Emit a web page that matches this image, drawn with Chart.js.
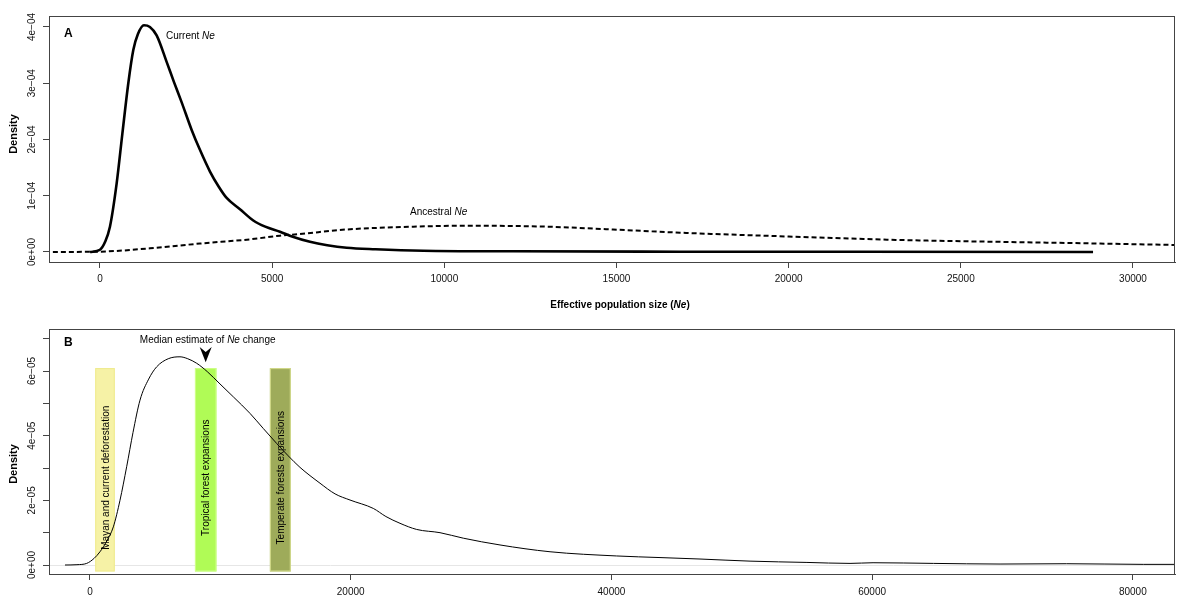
<!DOCTYPE html>
<html>
<head>
<meta charset="utf-8">
<script src="https://cdn.jsdelivr.net/npm/chart.js@4.4.0/dist/chart.umd.min.js"></script>
<style>
  html, body { margin: 0; padding: 0; background: #fff; }
  #wrap { position: relative; width: 1200px; height: 599px; }
  canvas { position: absolute; left: 0; }
</style>
</head>
<body>
<div id="wrap">
  <canvas id="chartA" width="1200" height="315" style="top:0px"></canvas>
  <canvas id="chartB" width="1200" height="284" style="top:315px"></canvas>
</div>
<script>
const FONT = '"Liberation Sans", Arial, Helvetica, sans-serif';

// ---- panel A : posterior densities of Ne ----
const currentX = [-290, 0, 150, 290, 485, 650, 823, 968, 1100, 1278, 1450, 1646, 1936, 2150, 2373, 2663, 2900, 3195, 3450, 3679, 4066, 4453, 4800, 5228, 5600, 6099, 6600, 7165, 8000, 9390, 12000, 16845, 22000, 28840];
const currentY = [0, 0.04e-4, 0.18e-4, 0.45e-4, 1.22e-4, 2.1e-4, 3.0e-4, 3.59e-4, 3.87e-4, 4.03e-4, 4.0e-4, 3.85e-4, 3.38e-4, 3.02e-4, 2.66e-4, 2.17e-4, 1.82e-4, 1.43e-4, 1.16e-4, 0.96e-4, 0.76e-4, 0.56e-4, 0.45e-4, 0.36e-4, 0.27e-4, 0.18e-4, 0.12e-4, 0.076e-4, 0.05e-4, 0.023e-4, 0.012e-4, 0.005e-4, 0.003e-4, 0];

const ancestralX = [-1600, 0, 1452, 2904, 4357, 5228, 5808, 7165, 9100, 10650, 12970, 14900, 16845, 20000, 23235, 26140, 29044, 32000];
const ancestralY = [0, 0.006e-4, 0.065e-4, 0.15e-4, 0.225e-4, 0.29e-4, 0.32e-4, 0.40e-4, 0.45e-4, 0.467e-4, 0.45e-4, 0.40e-4, 0.343e-4, 0.275e-4, 0.213e-4, 0.18e-4, 0.15e-4, 0.115e-4];

const xTicksA = [0, 5000, 10000, 15000, 20000, 25000, 30000];
const yTicksA = [0, 1e-4, 2e-4, 3e-4, 4e-4];
const yLabelsA = ['0e+00', '1e\u221204', '2e\u221204', '3e\u221204', '4e\u221204'];

// ---- panel B : density of Ne change time ----
const changeX = [-1918, -1000, -253, 300, 767, 1300, 1790, 2300, 2813, 3300, 3836, 4500, 5114, 6000, 6904, 7500, 8184, 9000, 9973, 11000, 12275, 13300, 14320, 15200, 16110, 17645, 18800, 19946, 21734, 22700, 23782, 25060, 26851, 28638, 31454, 35290, 40404, 43728, 46797, 50633, 55000, 58305, 60070, 64700, 69812, 74925, 80800, 84000];
const changeY = [0, 0.01e-5, 0.05e-5, 0.2e-5, 0.41e-5, 0.75e-5, 1.18e-5, 2.0e-5, 3.04e-5, 4.1e-5, 5.1e-5, 5.75e-5, 6.13e-5, 6.38e-5, 6.44e-5, 6.38e-5, 6.24e-5, 5.98e-5, 5.6e-5, 5.2e-5, 4.69e-5, 4.22e-5, 3.76e-5, 3.38e-5, 3.02e-5, 2.53e-5, 2.2e-5, 2.01e-5, 1.75e-5, 1.5e-5, 1.29e-5, 1.1e-5, 1.0e-5, 0.83e-5, 0.62e-5, 0.41e-5, 0.28e-5, 0.23e-5, 0.185e-5, 0.12e-5, 0.08e-5, 0.05e-5, 0.07e-5, 0.05e-5, 0.03e-5, 0.04e-5, 0.02e-5, 0.02e-5];

const xTicksB = [0, 20000, 40000, 60000, 80000];
const yTicksB = [0, 1e-5, 2e-5, 3e-5, 4e-5, 5e-5, 6e-5, 7e-5];
const yLabelsB = ['0e+00', '', '2e\u221205', '', '4e\u221205', '', '6e\u221205', ''];

const periods = ['Mayan and current deforestation', 'Tropical forest expansions', 'Temperate forests expansions'];
const periodFrom = [400, 8050, 13800];
const periodTo = [1900, 9700, 15400];
const periodTop = 6.09e-5;
const periodBottom = -0.2e-5;
const medianChange = 8875;

// styles
const periodFill = ['#f6f2a6', '#b0fb56', '#9eab5a'];
const periodEdge = ['#efeb8e', '#cfff8a', '#d5dd8c'];
const AXIS = '#444';

function pts(xs, ys) {
  return xs.map((x, i) => ({ x: x, y: ys[i] }));
}

// text with some italic bits, parts = [[text, fontStyle], ...]
function richText(ctx, parts, x, y, size, weight, align) {
  let w = 0;
  parts.forEach(p => {
    ctx.font = p[1] + ' ' + weight + ' ' + size + 'px ' + FONT;
    w += ctx.measureText(p[0]).width;
  });
  let cx = align === 'center' ? x - w / 2 : x;
  ctx.textAlign = 'left';
  ctx.textBaseline = 'middle';
  parts.forEach(p => {
    ctx.font = p[1] + ' ' + weight + ' ' + size + 'px ' + FONT;
    ctx.fillText(p[0], cx, y);
    cx += ctx.measureText(p[0]).width;
  });
}

function drawFrame(chart, ticks, labels, titleY) {
  const ctx = chart.ctx;
  const a = chart.chartArea;
  const ys = chart.scales.y;
  ctx.save();
  ctx.strokeStyle = AXIS;
  ctx.lineWidth = 1;
  ctx.strokeRect(a.left + 0.5, a.top + 0.5, a.right - a.left - 1, a.bottom - a.top);
  ctx.fillStyle = '#111';
  ctx.font = '10px ' + FONT;
  ctx.textAlign = 'center';
  ctx.textBaseline = 'middle';
  ticks.forEach((v, i) => {
    if (!labels[i]) return;
    ctx.save();
    ctx.translate(32, ys.getPixelForValue(v));
    ctx.rotate(-Math.PI / 2);
    ctx.fillText(labels[i], 0, 0);
    ctx.restore();
  });
  ctx.save();
  ctx.translate(14, titleY);
  ctx.rotate(-Math.PI / 2);
  ctx.font = 'bold 11px ' + FONT;
  ctx.fillStyle = '#000';
  ctx.fillText('Density', 0, 0);
  ctx.restore();
  ctx.restore();
}

function xAxis(min, max, ticks, height, pad) {
  return {
    type: 'linear',
    min: min,
    max: max,
    afterBuildTicks: s => { s.ticks = ticks.map(v => ({ value: v })); },
    afterFit: s => { s.height = height; },
    grid: { drawOnChartArea: false, drawTicks: true, tickLength: 6, color: AXIS },
    border: { display: true, color: AXIS },
    ticks: {
      padding: pad,
      maxRotation: 0,
      autoSkip: false,
      color: '#111',
      font: { family: FONT, size: 10 },
      callback: v => String(v)
    }
  };
}

function yAxis(min, max, ticks) {
  return {
    type: 'linear',
    min: min,
    max: max,
    afterBuildTicks: s => { s.ticks = ticks.map(v => ({ value: v })); },
    afterFit: s => { s.width = 49; },
    grid: { drawOnChartArea: false, drawTicks: true, tickLength: 6, color: AXIS },
    border: { display: true, color: AXIS },
    ticks: { display: false }
  };
}

const panelA = {
  id: 'panelA',
  afterDraw(chart) {
    const ctx = chart.ctx;
    const a = chart.chartArea;
    const xs = chart.scales.x, ys = chart.scales.y;
    drawFrame(chart, yTicksA, yLabelsA, 134);
    ctx.save();
    ctx.fillStyle = '#000';
    richText(ctx, [['A', 'normal']], a.left + 15, a.top + 18, 12, 'bold', 'left');
    richText(ctx, [['Current ', 'normal'], ['Ne', 'italic']], xs.getPixelForValue(1917), ys.getPixelForValue(3.84e-4), 10, 'normal', 'left');
    richText(ctx, [['Ancestral ', 'normal'], ['Ne', 'italic']], xs.getPixelForValue(9004), ys.getPixelForValue(0.711e-4), 10, 'normal', 'left');
    richText(ctx, [['Effective population size (', 'normal'], ['Ne', 'italic'], [')', 'normal']], (a.left + a.right) / 2 + 8, 305, 10, 'bold', 'center');
    ctx.restore();
  }
};

const panelB = {
  id: 'panelB',
  beforeDatasetsDraw(chart) {
    const ctx = chart.ctx;
    const a = chart.chartArea;
    const xs = chart.scales.x, ys = chart.scales.y;
    ctx.save();
    ctx.strokeStyle = '#e6e6e6';
    ctx.lineWidth = 1;
    const y0 = Math.round(ys.getPixelForValue(0)) + 0.5;
    ctx.beginPath();
    ctx.moveTo(a.left, y0);
    ctx.lineTo(a.right, y0);
    ctx.stroke();
    periods.forEach((p, i) => {
      const x1 = xs.getPixelForValue(periodFrom[i]);
      const x2 = xs.getPixelForValue(periodTo[i]);
      const t = ys.getPixelForValue(periodTop);
      const b = ys.getPixelForValue(periodBottom);
      ctx.fillStyle = periodFill[i];
      ctx.fillRect(x1, t, x2 - x1, b - t);
      ctx.strokeStyle = periodEdge[i];
      ctx.strokeRect(x1 + 0.5, t + 0.5, x2 - x1 - 1, b - t - 1);
    });
    ctx.restore();
  },
  afterDraw(chart) {
    const ctx = chart.ctx;
    const a = chart.chartArea;
    const xs = chart.scales.x, ys = chart.scales.y;
    drawFrame(chart, yTicksB, yLabelsB, 149);
    ctx.save();
    ctx.fillStyle = '#000';
    periods.forEach((p, i) => {
      const cx = (xs.getPixelForValue(periodFrom[i]) + xs.getPixelForValue(periodTo[i])) / 2 + 1;
      ctx.save();
      ctx.translate(cx, ys.getPixelForValue(2.7e-5));
      ctx.rotate(-Math.PI / 2);
      ctx.font = '10px ' + FONT;
      ctx.textAlign = 'center';
      ctx.textBaseline = 'middle';
      ctx.fillText(p, 0, 0);
      ctx.restore();
    });
    // arrow pointing at the median
    const mx = xs.getPixelForValue(medianChange);
    const tip = ys.getPixelForValue(6.27e-5);
    const top = ys.getPixelForValue(6.74e-5);
    ctx.beginPath();
    ctx.moveTo(mx, tip);
    ctx.lineTo(mx - 6, top);
    ctx.lineTo(mx, top + 5);
    ctx.lineTo(mx + 6, top);
    ctx.closePath();
    ctx.fill();
    richText(ctx, [['Median estimate of ', 'normal'], ['Ne', 'italic'], [' change', 'normal']], mx + 2, ys.getPixelForValue(6.96e-5), 10, 'normal', 'center');
    richText(ctx, [['B', 'normal']], a.left + 15, a.top + 14, 12, 'bold', 'left');
    ctx.restore();
  }
};

const common = {
  responsive: false,
  animation: false,
  devicePixelRatio: 1,
  plugins: { legend: { display: false }, tooltip: { enabled: false } },
  elements: { point: { radius: 0 } }
};

new Chart(document.getElementById('chartA'), {
  type: 'line',
  data: {
    datasets: [
      { data: pts(ancestralX, ancestralY), borderColor: '#000', borderWidth: 2, borderDash: [5, 3], cubicInterpolationMode: 'monotone', clip: 0 },
      { data: pts(currentX, currentY), borderColor: '#000', borderWidth: 2.6, cubicInterpolationMode: 'monotone', clip: 0 }
    ]
  },
  options: Object.assign({}, common, {
    layout: { padding: { top: 16, right: 25, left: 0, bottom: 0 } },
    scales: {
      x: xAxis(-1480, 31220, xTicksA, 53, 5),
      y: yAxis(-1.78e-5, 4.195e-4, yTicksA)
    }
  }),
  plugins: [panelA]
});

new Chart(document.getElementById('chartB'), {
  type: 'line',
  data: {
    datasets: [
      { data: pts(changeX, changeY), borderColor: '#000', borderWidth: 1, cubicInterpolationMode: 'monotone', clip: 0 }
    ]
  },
  options: Object.assign({}, common, {
    layout: { padding: { top: 14, right: 25, left: 0, bottom: 0 } },
    scales: {
      x: xAxis(-3145, 83235, xTicksB, 25, 6),
      y: yAxis(-0.278e-5, 7.30e-5, yTicksB)
    }
  }),
  plugins: [panelB]
});
</script>
</body>
</html>
